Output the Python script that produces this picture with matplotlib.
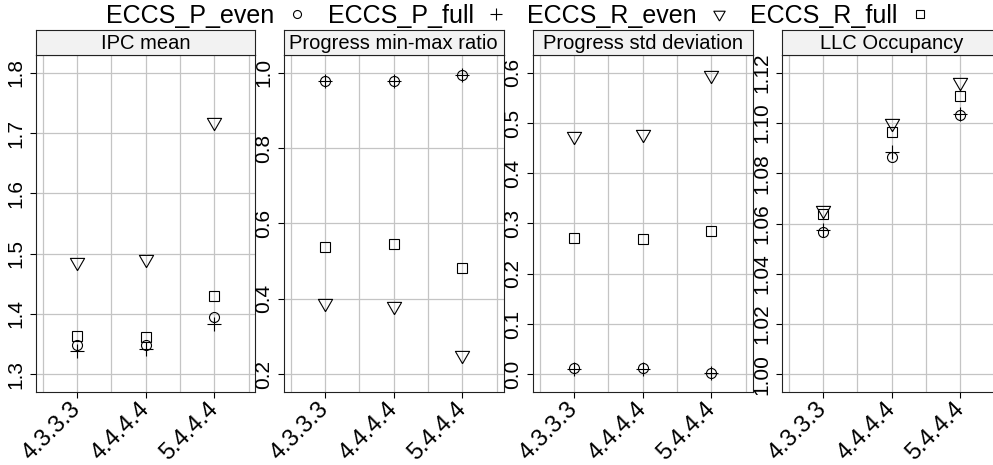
import numpy as np
import matplotlib
matplotlib.use("Agg")
import matplotlib.pyplot as plt
import matplotlib.transforms as mtrans
from matplotlib.lines import Line2D

plt.rcParams['font.family'] = ['Liberation Sans', 'DejaVu Sans']

# ----------------------------------------------- data -----------------------------------------------
configs = ['4.3.3.3', '4.4.4.4', '5.4.4.4']
panels = ['IPC mean', 'Progress min-max ratio', 'Progress std deviation', 'LLC Occupancy']
series = ['ECCS_P_even', 'ECCS_P_full', 'ECCS_R_even', 'ECCS_R_full']

ipc_p_even = [1.348, 1.349, 1.395]
ipc_p_full = [1.339, 1.342, 1.384]
ipc_r_even = [1.486, 1.491, 1.719]
ipc_r_full = [1.363, 1.362, 1.429]

ratio_p_even = [0.978, 0.978, 0.993]
ratio_p_full = [0.978, 0.978, 0.993]
ratio_r_even = [0.390, 0.382, 0.250]
ratio_r_full = [0.537, 0.545, 0.481]

std_p_even = [0.012, 0.012, 0.003]
std_p_full = [0.010, 0.010, 0.003]
std_r_even = [0.474, 0.478, 0.596]
std_r_full = [0.271, 0.270, 0.286]

llc_p_even = [1.0566, 1.0865, 1.1033]
llc_p_full = [1.0573, 1.0885, 1.1034]
llc_r_even = [1.0652, 1.1002, 1.1165]
llc_r_full = [1.0636, 1.0965, 1.1107]

ipc_ticks = [1.3, 1.4, 1.5, 1.6, 1.7, 1.8]
ratio_ticks = [0.2, 0.4, 0.6, 0.8, 1.0]
std_ticks = [0.0, 0.1, 0.2, 0.3, 0.4, 0.5, 0.6]
llc_ticks = [1.00, 1.02, 1.04, 1.06, 1.08, 1.10, 1.12]

panel_data = [
    [ipc_p_even, ipc_p_full, ipc_r_even, ipc_r_full],
    [ratio_p_even, ratio_p_full, ratio_r_even, ratio_r_full],
    [std_p_even, std_p_full, std_r_even, std_r_full],
    [llc_p_even, llc_p_full, llc_r_even, llc_r_full],
]
panel_ticks = [ipc_ticks, ratio_ticks, std_ticks, llc_ticks]
tick_fmt = ['{:.1f}', '{:.1f}', '{:.1f}', '{:.2f}']

# ------------------------------------------- marker styles -------------------------------------------
tri_down = [(0, -1.555), (1.347, 0.778), (-1.347, 0.778), (0, -1.555)]   # R style pch 6
markers = ['o', '+', tri_down, 's']
msizes = [7.2, 10.0, 11.8, 7.2]

W, H = 993, 465
fig = plt.figure(figsize=(W / 100, H / 100), dpi=100)

lefts = [36, 284, 533, 782]     # panel left edges in pixels
pw = 219.5
top, bottom, strip_top = 55, 392, 30

x = np.arange(1, len(configs) + 1)
shift = mtrans.ScaledTranslation(5 / 100, 0, fig.dpi_scale_trans)

for k in range(4):
    ax = fig.add_axes([lefts[k] / W, 1 - bottom / H, pw / W, (bottom - top) / H])
    for s in range(4):
        ax.plot(x, panel_data[k][s], linestyle='none', marker=markers[s], ms=msizes[s],
                mfc='none', mec='black', mew=0.8, color='black', zorder=3)

    ticks = panel_ticks[k]
    span = ticks[-1] - ticks[0]
    ax.set_ylim(ticks[0] - span * 0.059, ticks[-1] + span * 0.059)
    ax.set_xlim(0.4, 3.6)

    # grid like lattice panel.grid
    for gx in np.arange(0.5, 3.6, 0.5):
        ax.axvline(gx, color='#c4c4c4', lw=0.9, zorder=1)
    for gy in ticks:
        ax.axhline(gy, color='#c4c4c4', lw=0.9, zorder=1)

    ax.set_xticks(x)
    ax.set_xticklabels(configs, rotation=45, ha='right', va='center', rotation_mode='anchor')
    for lab in ax.get_xticklabels():
        lab.set_transform(lab.get_transform() + shift)
    ax.set_yticks(ticks)
    ax.set_yticklabels([tick_fmt[k].format(t) for t in ticks], rotation=90, va='center')
    ax.tick_params(axis='x', direction='out', length=4, width=0.8, pad=6, labelsize=17)
    ax.tick_params(axis='y', direction='out', length=4, width=0.8, pad=4, labelsize=15)
    for sp in ax.spines.values():
        sp.set_color('#222222')
        sp.set_linewidth(0.8)

    # strip on top of each panel
    st = fig.add_axes([lefts[k] / W, 1 - top / H, pw / W, (top - strip_top) / H])
    st.set_facecolor('#f2f2f2')
    st.set_xticks([])
    st.set_yticks([])
    for sp in st.spines.values():
        sp.set_color('#222222')
        sp.set_linewidth(0.8)
    st.text(0.5, 0.45, panels[k], ha='center', va='center', fontsize=14.5, transform=st.transAxes)

# ------------------------------------------- key on top -------------------------------------------
handles = [Line2D([], [], linestyle='none', marker=markers[s], ms=msizes[s] * 0.8,
                  mfc='none', mec='black', mew=0.8) for s in range(4)]
fig.legend(handles, series, loc='center', bbox_to_anchor=(0.523, 0.966), ncol=4,
           frameon=False, markerfirst=False, fontsize=18, handlelength=1.0,
           handletextpad=0.4, columnspacing=0.74, borderpad=0, borderaxespad=0)

fig.savefig('out.png', dpi=100)
